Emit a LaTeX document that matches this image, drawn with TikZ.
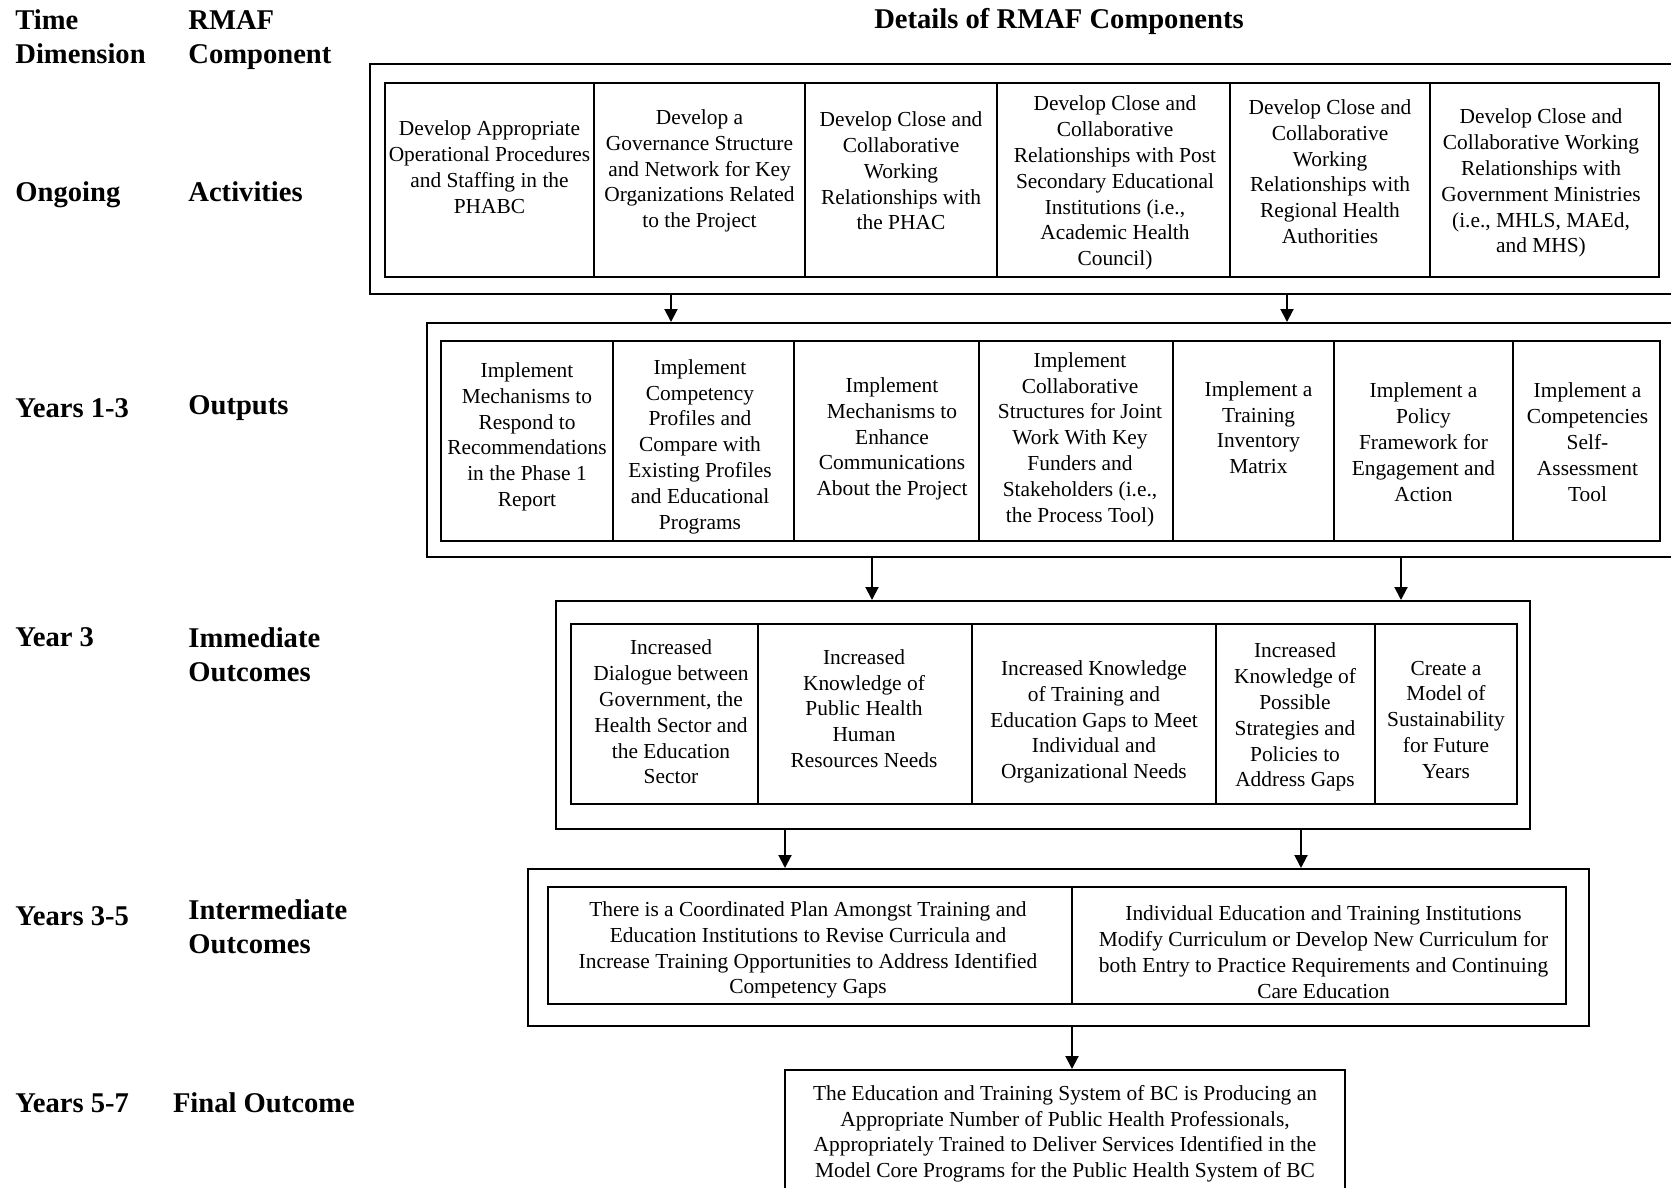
\documentclass[tikz,border=0pt]{standalone}
\usepackage{fontspec}
\setmainfont{Liberation Serif}
\usetikzlibrary{arrows.meta,fit}
\tikzset{
  stageFrame/.style={rectangle, draw=black, line width=1pt, inner sep=0pt},
  cellRow/.style={rectangle, draw=black, line width=1.1pt, inner sep=0pt},
  divider/.style={draw=black, line width=0.8pt},
  cellText/.style={align=center, inner sep=0pt, yshift=-1.3pt, font=\fontsize{10.7}{12.9}\selectfont},
  rowLabel/.style={anchor=west, align=left, inner sep=0pt, font=\fontsize{14.3}{17}\selectfont\bfseries},
  title/.style={align=center, inner sep=0pt, font=\fontsize{14.3}{17}\selectfont\bfseries},
  arrow/.style={-{Triangle[length=6.5pt,width=6.5pt]}, draw=black, line width=1pt}
}

\begin{document}
\begin{tikzpicture}[x=0.5pt,y=-0.5pt]
\useasboundingbox (0,0) rectangle (1671,1188);
\clip (0,0) rectangle (1671,1188);

% --------------------------------------------------------------------------
% Column headings and row labels
% --------------------------------------------------------------------------
\node[rowLabel] (hTime) at (15,36.3) {Time\\Dimension};
\node[rowLabel] (hComp) at (188,40.5) {RMAF\\Component};
\node[title] (hDetails) at (1059,21.5) {Details of RMAF Components};

\node[rowLabel] (tAct) at (15,195) {Ongoing};
\node[rowLabel] (lAct) at (188,191.8) {Activities};
\node[rowLabel] (tOut) at (15,408) {Years 1-3};
\node[rowLabel] (lOut) at (188,408) {Outputs};
\node[rowLabel] (tImm) at (15,637.3) {Year 3};
\node[rowLabel] (lImm) at (188,654.4) {Immediate\\Outcomes};
\node[rowLabel] (tInt) at (15,916.5) {Years 3-5};
\node[rowLabel] (lInt) at (188,927.1) {Intermediate\\Outcomes};
\node[rowLabel] (tFin) at (15,1103) {Years 5-7};
\node[rowLabel] (lFin) at (172.6,1103) {Final Outcome};

% --------------------------------------------------------------------------
% Activities
% --------------------------------------------------------------------------
\node[stageFrame, fit={(370,64) (1690,294)}] (actFrame) {};
\node[cellRow, fit={(385,83) (1659,277)}] (actRow) {};
\foreach \x in {594,805,997,1230,1430}
  \draw[divider] (\x,83) -- (\x,277);
\node[cellText] (actA) at (489.5,164.6) {Develop Appropriate\\Operational Procedures\\and Staffing in the\\PHABC};
\node[cellText] (actB) at (699.5,168.4) {Develop a\\Governance Structure\\and Network for Key\\Organizations Related\\to the Project};
\node[cellText] (actC) at (901,168.4) {Develop Close and\\Collaborative\\Working\\Relationships with\\the PHAC};
\node[cellText] (actD) at (1115,180.6) {Develop Close and\\Collaborative\\Relationships with Post\\Secondary Educational\\Institutions (i.e.,\\Academic Health\\Council)};
\node[cellText] (actE) at (1330,169) {Develop Close and\\Collaborative\\Working\\Relationships with\\Regional Health\\Authorities};
\node[cellText] (actF) at (1541,180.6) {Develop Close and\\Collaborative Working\\Relationships with\\Government Ministries\\(i.e., MHLS, MAEd,\\and MHS)};

% --------------------------------------------------------------------------
% Outputs
% --------------------------------------------------------------------------
\node[stageFrame, fit={(427,323) (1690,557)}] (outFrame) {};
\node[cellRow, fit={(441,341) (1660,541)}] (outRow) {};
\foreach \x in {613,794,979,1173,1334,1513}
  \draw[divider] (\x,341) -- (\x,541);
\node[cellText] (outA) at (527,434.3) {Implement\\Mechanisms to\\Respond to\\Recommendations\\in the Phase 1\\Report};
\node[cellText] (outB) at (700,443.9) {Implement\\Competency\\Profiles and\\Compare with\\Existing Profiles\\and Educational\\Programs};
\node[cellText] (outC) at (892,436.4) {Implement\\Mechanisms to\\Enhance\\Communications\\About the Project};
\node[cellText] (outD) at (1080,436.9) {Implement\\Collaborative\\Structures for Joint\\Work With Key\\Funders and\\Stakeholders (i.e.,\\the Process Tool)};
\node[cellText] (outE) at (1258.5,425) {Implement a\\Training\\Inventory\\Matrix};
\node[cellText] (outF) at (1423.5,439.6) {Implement a\\Policy\\Framework for\\Engagement and\\Action};
\node[cellText] (outG) at (1587.5,439.6) {Implement a\\Competencies\\Self-\\Assessment\\Tool};

% --------------------------------------------------------------------------
% Immediate outcomes
% --------------------------------------------------------------------------
\node[stageFrame, fit={(556,601) (1530,829)}] (immFrame) {};
\node[cellRow, fit={(571,624) (1517,804)}] (immRow) {};
\foreach \x in {758,972,1216,1375}
  \draw[divider] (\x,624) -- (\x,804);
\node[cellText] (immA) at (671,709.5) {Increased\\Dialogue between\\Government, the\\Health Sector and\\the Education\\Sector};
\node[cellText] (immB) at (864,706) {Increased\\Knowledge of\\Public Health\\Human\\Resources Needs};
\node[cellText] (immC) at (1094,719.3) {Increased Knowledge\\of Training and\\Education Gaps to Meet\\Individual and\\Organizational Needs};
\node[cellText] (immD) at (1295,714.6) {Increased\\Knowledge of\\Possible\\Strategies and\\Policies to\\Address Gaps};
\node[cellText] (immE) at (1446,717.2) {Create a\\Model of\\Sustainability\\for Future\\Years};

% --------------------------------------------------------------------------
% Intermediate outcomes
% --------------------------------------------------------------------------
\node[stageFrame, fit={(528,869) (1589,1026)}] (intFrame) {};
\node[cellRow, fit={(548,887) (1566,1004)}] (intRow) {};
\draw[divider] (1072,887) -- (1072,1004);
\node[cellText] (intA) at (808,947.4) {There is a Coordinated Plan Amongst Training and\\Education Institutions to Revise Curricula and\\Increase Training Opportunities to Address Identified\\Competency Gaps};
\node[cellText] (intB) at (1323.5,949.5) {Individual Education and Training Institutions\\Modify Curriculum or Develop New Curriculum for\\both Entry to Practice Requirements and Continuing\\Care Education};

% --------------------------------------------------------------------------
% Final outcome
% --------------------------------------------------------------------------
\node[stageFrame, fit={(785,1070) (1345,1210)}] (finBox) {};
\node[cellText] (finA) at (1065,1131.2) {The Education and Training System of BC is Producing an\\Appropriate Number of Public Health Professionals,\\Appropriately Trained to Deliver Services Identified in the\\Model Core Programs for the Public Health System of BC};

% --------------------------------------------------------------------------
% Connectors
% --------------------------------------------------------------------------
\coordinate (dropA) at (671,0);
\coordinate (dropB) at (1287,0);
\coordinate (dropC) at (872,0);
\coordinate (dropD) at (1401,0);
\coordinate (dropE) at (785,0);
\coordinate (dropF) at (1301,0);
\coordinate (dropG) at (1072,0);
\draw[arrow] (actFrame.south -| dropA) -- (outFrame.north -| dropA);
\draw[arrow] (actFrame.south -| dropB) -- (outFrame.north -| dropB);
\draw[arrow] (outFrame.south -| dropC) -- (immFrame.north -| dropC);
\draw[arrow] (outFrame.south -| dropD) -- (immFrame.north -| dropD);
\draw[arrow] (immFrame.south -| dropE) -- (intFrame.north -| dropE);
\draw[arrow] (immFrame.south -| dropF) -- (intFrame.north -| dropF);
\draw[arrow] (intFrame.south -| dropG) -- (finBox.north -| dropG);

\end{tikzpicture}
\end{document}
